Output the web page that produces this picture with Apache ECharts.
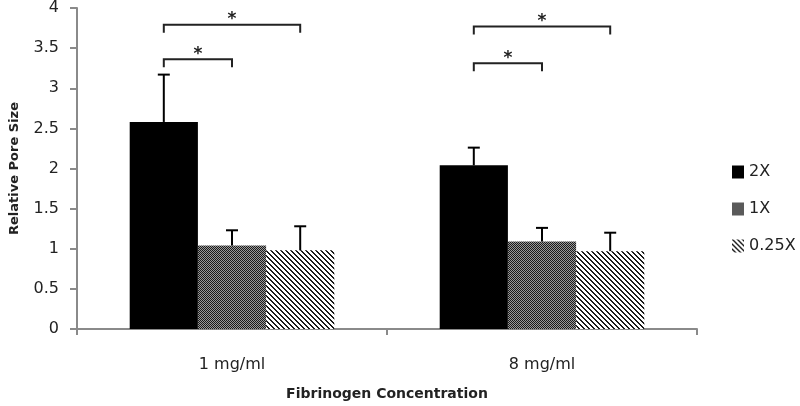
<!DOCTYPE html>
<html>
<head>
<meta charset="utf-8">
<script src="https://cdn.jsdelivr.net/npm/echarts@6/dist/echarts.min.js"></script>
<style>html,body{margin:0;padding:0;background:#fff;}#c{width:800px;height:406px;}</style>
</head>
<body>
<div id="c"></div>
<script>
// ---- data ----
var categories = ['1 mg/ml', '8 mg/ml'];
var seriesNames = ['2X', '1X', '0.25X'];
var mean2X = [2.58, 2.04];
var mean1X = [1.04, 1.09];
var mean025X = [0.98, 0.97];
var err2X = [0.59, 0.22];
var err1X = [0.19, 0.17];
var err025X = [0.30, 0.23];
var yTicks = [0, 0.5, 1, 1.5, 2, 2.5, 3, 3.5, 4];
// significance brackets: category, from series, to series, level
var bracketCat = [0, 0, 1, 1];
var bracketFrom = [0, 0, 0, 0];
var bracketTo = [1, 2, 1, 2];
var bracketLevel = [3.36, 3.79, 3.31, 3.77];
var bracketLabel = ['*', '*', '*', '*'];

// ---- patterns ----
function makePattern(size, fn) {
  var cv = document.createElement('canvas');
  cv.width = size; cv.height = size;
  var ctx = cv.getContext('2d');
  for (var x = 0; x < size; x++) for (var y = 0; y < size; y++) {
    ctx.fillStyle = fn(x, y);
    ctx.fillRect(x, y, 1, 1);
  }
  return { image: cv, repeat: 'repeat' };
}
var checker = makePattern(2, function (x, y) { return ((x + y) % 2 === 0) ? '#1a1a1a' : '#9a9a9a'; });
var stripes = makePattern(5, function (x, y) { var d = ((x - y) % 5 + 5) % 5; return (d < 2) ? '#1a1a1a' : '#ffffff'; });

var means = [mean2X, mean1X, mean025X];
var errs = [err2X, err1X, err025X];
var fills = ['#000000', checker, stripes];
var GAP = 0.34;
var FONT = '"DejaVu Sans", sans-serif';

function barOffset(api, s) {
  var band = api.size([1, 0])[0];
  var bw = band * (1 - GAP) / 3;
  return (s - 1) * bw;
}

var series = [];
seriesNames.forEach(function (n, i) {
  series.push({
    name: n, type: 'bar', data: means[i], barGap: '0%', barCategoryGap: (GAP * 100) + '%',
    itemStyle: { color: fills[i] }, z: 2
  });
});

var errData = [];
for (var s = 0; s < 3; s++) for (var c = 0; c < categories.length; c++) {
  errData.push([c, means[s][c], means[s][c] + errs[s][c], s]);
}
series.push({
  name: 'err', type: 'custom', z: 5,
  data: errData,
  renderItem: function (params, api) {
    var c = api.value(0), s = api.value(3);
    var off = barOffset(api, s);
    var p0 = api.coord([c, api.value(1)]);
    var p1 = api.coord([c, api.value(2)]);
    var x = p0[0] + off;
    return {
      type: 'group', children: [
        { type: 'line', shape: { x1: x, y1: p0[1], x2: x, y2: p1[1] }, style: { stroke: '#000', lineWidth: 2 } },
        { type: 'line', shape: { x1: x - 6, y1: p1[1], x2: x + 6, y2: p1[1] }, style: { stroke: '#000', lineWidth: 2 } }
      ]
    };
  }
});

var brData = [];
for (var b = 0; b < bracketCat.length; b++) brData.push([bracketCat[b], bracketLevel[b], bracketFrom[b], bracketTo[b], b]);
series.push({
  name: 'sig', type: 'custom', z: 5,
  data: brData,
  renderItem: function (params, api) {
    var c = api.value(0);
    var p = api.coord([c, api.value(1)]);
    var x1 = p[0] + barOffset(api, api.value(2));
    var x2 = p[0] + barOffset(api, api.value(3));
    var y = p[1];
    return {
      type: 'group', children: [
        { type: 'polyline', shape: { points: [[x1, y + 8], [x1, y], [x2, y], [x2, y + 8]] }, style: { stroke: '#222', lineWidth: 2, fill: null } },
        { type: 'text', x: (x1 + x2) / 2, y: y - 5, style: { text: bracketLabel[api.value(4)], fill: '#222', font: 'bold 17px "DejaVu Sans", sans-serif', textAlign: 'center', textVerticalAlign: 'middle' } }
      ]
    };
  }
});

var chart = echarts.init(document.getElementById('c'), null, { renderer: 'canvas' });
chart.setOption({
  animation: false,
  backgroundColor: '#ffffff',
  textStyle: { fontFamily: FONT },
  grid: { left: 76, right: 103, top: 8, bottom: 72, containLabel: false },
  legend: {
    data: seriesNames, orient: 'vertical', left: 727, top: 159,
    itemWidth: 12, itemHeight: 13, itemGap: 21,
    textStyle: { fontSize: 16, color: '#222', fontFamily: FONT },
    icon: 'rect'
  },
  xAxis: {
    type: 'category', data: categories,
    name: 'Fibrinogen Concentration', nameLocation: 'middle', nameGap: 58,
    nameTextStyle: { fontSize: 14, fontWeight: 'bold', color: '#222', fontFamily: FONT },
    axisLine: { lineStyle: { color: '#8a8a8a', width: 2 } },
    axisTick: { show: true, length: 6, lineStyle: { color: '#8a8a8a', width: 2 } },
    axisLabel: { fontSize: 16, color: '#222', margin: 28 }
  },
  yAxis: {
    type: 'value', min: yTicks[0], max: yTicks[yTicks.length - 1], interval: 0.5,
    name: 'Relative Pore Size', nameLocation: 'middle', nameGap: 56, nameRotate: 90,
    nameTextStyle: { fontSize: 13, fontWeight: 'bold', color: '#222', fontFamily: FONT },
    axisLine: { show: true, lineStyle: { color: '#8a8a8a', width: 2 } },
    axisTick: { show: true, length: 7, lineStyle: { color: '#8a8a8a', width: 2 } },
    splitLine: { show: false },
    axisLabel: { fontSize: 16, color: '#222', margin: 18 }
  },
  series: series
});
</script>
</body>
</html>
